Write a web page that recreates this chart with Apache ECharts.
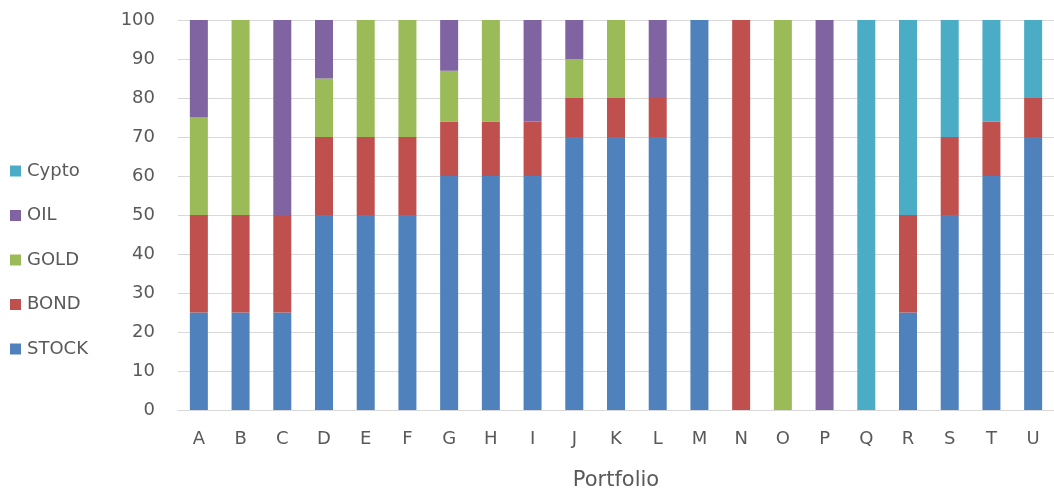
<!DOCTYPE html>
<html>
<head>
<meta charset="utf-8">
<script src="https://cdn.jsdelivr.net/npm/echarts@6/dist/echarts.min.js"></script>
<style>
  html, body { margin: 0; padding: 0; background: #fff; }
  #chart { width: 1054px; height: 492px; }
</style>
</head>
<body>
<div id="chart"></div>
<script>
// Portfolio allocation (percent) per asset class
const portfolios = ['A','B','C','D','E','F','G','H','I','J','K','L','M','N','O','P','Q','R','S','T','U'];
const stock = [25, 25, 25, 50, 50, 50, 60, 60, 60, 70, 70, 70, 100, 0, 0, 0, 0, 25, 50, 60, 70];
const bond  = [25, 25, 25, 20, 20, 20, 14, 14, 14, 10, 10, 10, 0, 100, 0, 0, 0, 25, 20, 14, 10];
const gold  = [25, 50, 0, 15, 30, 30, 13, 26, 0, 10, 20, 0, 0, 0, 100, 0, 0, 0, 0, 0, 0];
const oil   = [25, 0, 50, 15, 0, 0, 13, 0, 26, 10, 0, 20, 0, 0, 0, 100, 0, 0, 0, 0, 0];
const crypto = [0, 0, 0, 0, 0, 0, 0, 0, 0, 0, 0, 0, 0, 0, 0, 0, 100, 50, 30, 26, 20];
const yTicks = { min: 0, max: 100, interval: 10 };

const seriesDefs = [
  { name: 'STOCK', data: stock, color: '#4F81BD' },
  { name: 'BOND', data: bond, color: '#C0504D' },
  { name: 'GOLD', data: gold, color: '#9BBB59' },
  { name: 'OIL', data: oil, color: '#8064A2' },
  { name: 'Cypto', data: crypto, color: '#4BACC6' }
];

const font = '"DejaVu Sans", sans-serif';
const textColor = '#595959';

const chart = echarts.init(document.getElementById('chart'), null, { renderer: 'canvas' });
chart.setOption({
  animation: false,
  textStyle: { fontFamily: font },
  grid: { left: 178, right: 0, top: 20, bottom: 82, containLabel: false, outerBoundsMode: 'none' },
  legend: {
    orient: 'vertical',
    left: 5,
    top: 156,
    icon: 'rect',
    itemWidth: 11,
    itemHeight: 11,
    itemGap: 24.5,
    data: ['Cypto', 'OIL', 'GOLD', 'BOND', 'STOCK'],
    textStyle: { color: textColor, fontSize: 18, fontFamily: font, lineHeight: 20, padding: [0, 0, 0, 1] }
  },
  xAxis: {
    type: 'category',
    data: portfolios,
    name: 'Portfolio',
    nameLocation: 'middle',
    nameGap: 60,
    nameTextStyle: { color: textColor, fontSize: 21, fontFamily: font },
    axisLine: { lineStyle: { color: '#d9d9d9', width: 1 } },
    axisTick: { show: false },
    axisLabel: { color: textColor, fontSize: 18, fontFamily: font, margin: 20 }
  },
  yAxis: {
    type: 'value',
    min: yTicks.min,
    max: yTicks.max,
    interval: yTicks.interval,
    axisLine: { show: false },
    axisTick: { show: false },
    axisLabel: { color: textColor, fontSize: 18, fontFamily: font, margin: 23 },
    splitLine: { lineStyle: { color: '#d9d9d9', width: 1 } }
  },
  series: seriesDefs.map(s => ({
    name: s.name,
    type: 'bar',
    stack: 'total',
    barWidth: 18,
    data: s.data,
    itemStyle: { color: s.color }
  }))
});
</script>
</body>
</html>
